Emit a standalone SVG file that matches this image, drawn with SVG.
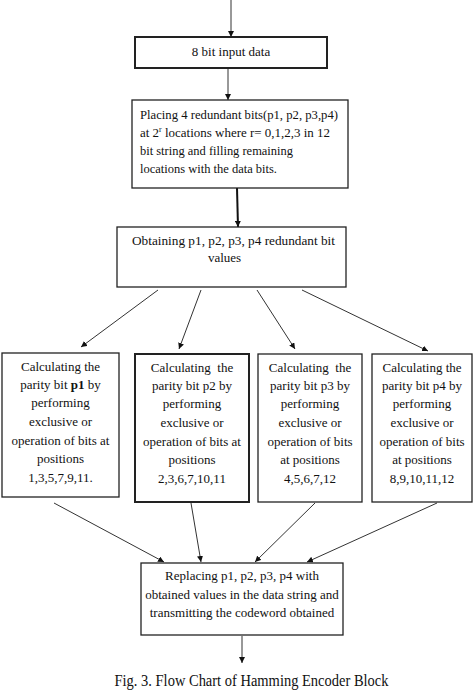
<svg xmlns="http://www.w3.org/2000/svg" width="474" height="690" viewBox="0 0 474 690">
<style>
.box{fill:#fff;stroke:#222;stroke-width:1.3}
.thick{stroke-width:2}
text{font-family:"Liberation Serif","Times New Roman",serif;font-size:13px;fill:#111}
.c{text-anchor:middle}
.ln{stroke:#333;stroke-width:1;fill:none}
.lnt{stroke:#111;stroke-width:2;fill:none}
.cap{font-size:14.5px}
</style>
<defs>
<marker id="ah" viewBox="0 0 10 10" refX="10" refY="5" markerWidth="6" markerHeight="6" markerUnits="userSpaceOnUse" orient="auto">
<path d="M0,0 L10,5 L0,10 z" fill="#111"/>
</marker>
</defs>
<rect width="474" height="690" fill="#fff"/>
<g id="connectors">
<line class="ln" x1="231" y1="0" x2="231" y2="37" marker-end="url(#ah)"/>
<line class="ln" x1="228" y1="68" x2="228" y2="100" marker-end="url(#ah)"/>
<line class="lnt" x1="237" y1="188" x2="238" y2="227" marker-end="url(#ah)"/>
<line class="ln" x1="158" y1="290" x2="81" y2="347" marker-end="url(#ah)"/>
<line class="ln" x1="201" y1="290" x2="179" y2="349" marker-end="url(#ah)"/>
<line class="ln" x1="257" y1="290" x2="295" y2="349" marker-end="url(#ah)"/>
<line class="ln" x1="302" y1="290" x2="428" y2="351" marker-end="url(#ah)"/>
<line class="ln" x1="54" y1="503" x2="164" y2="562" marker-end="url(#ah)"/>
<line class="ln" x1="191" y1="503" x2="201" y2="562" marker-end="url(#ah)"/>
<line class="ln" x1="315" y1="503" x2="255" y2="562" marker-end="url(#ah)"/>
<line class="ln" x1="437" y1="503" x2="307" y2="562" marker-end="url(#ah)"/>
<line class="ln" x1="242" y1="636" x2="242" y2="663" marker-end="url(#ah)"/>
</g>
<g id="input">
<rect class="box thick" x="135" y="37" width="192" height="31"/>
<text class="c" x="231" y="56">8 bit input data</text>
</g>
<g id="placing">
<rect class="box" x="132" y="100" width="216" height="88"/>
<text x="140" y="119" textLength="198" lengthAdjust="spacingAndGlyphs">Placing 4 redundant bits(p1, p2, p3,p4)</text>
<text x="140" y="137" textLength="190" lengthAdjust="spacingAndGlyphs">at 2<tspan font-size="8" dy="-5">r</tspan><tspan dy="5"> locations where  r= 0,1,2,3 in 12</tspan></text>
<text x="140" y="155" textLength="153" lengthAdjust="spacingAndGlyphs">bit string and filling remaining</text>
<text x="140" y="173" textLength="137" lengthAdjust="spacingAndGlyphs">locations with the data bits.</text>
</g>
<g id="obtaining">
<rect class="box" x="117" y="227" width="229" height="60"/>
<text class="c" x="233.5" y="245" textLength="203" lengthAdjust="spacingAndGlyphs">Obtaining p1, p2, p3, p4 redundant bit</text>
<text class="c" x="224.5" y="262">values</text>
</g>
<g id="p1box">
<rect class="box" x="2" y="353" width="117" height="144"/>
<text class="c" x="60.5" y="371">Calculating the</text>
<text class="c" x="60.5" y="389">parity bit <tspan font-weight="bold">p1</tspan> by</text>
<text class="c" x="60.5" y="407">performing</text>
<text class="c" x="60.5" y="426">exclusive or</text>
<text class="c" x="60.5" y="445">operation of bits at</text>
<text class="c" x="60.5" y="463">positions</text>
<text class="c" x="60.5" y="482">1,3,5,7,9,11.</text>
</g>
<g id="p2box">
<rect class="box thick" x="135" y="354" width="114" height="148"/>
<text class="c" x="192" y="372" xml:space="preserve">Calculating  the</text>
<text class="c" x="192" y="390">parity bit p2 by</text>
<text class="c" x="192" y="408">performing</text>
<text class="c" x="192" y="427">exclusive or</text>
<text class="c" x="192" y="446">operation of bits at</text>
<text class="c" x="192" y="464">positions</text>
<text class="c" x="192" y="483">2,3,6,7,10,11</text>
</g>
<g id="p3box">
<rect class="box" x="258" y="354" width="104" height="148"/>
<text class="c" x="310" y="372" xml:space="preserve">Calculating  the</text>
<text class="c" x="310" y="390">parity bit p3 by</text>
<text class="c" x="310" y="408">performing</text>
<text class="c" x="310" y="427">exclusive or</text>
<text class="c" x="310" y="446">operation of bits</text>
<text class="c" x="310" y="464">at positions</text>
<text class="c" x="310" y="483">4,5,6,7,12</text>
</g>
<g id="p4box">
<rect class="box" x="372" y="354" width="100" height="148"/>
<text class="c" x="422" y="372">Calculating the</text>
<text class="c" x="422" y="390">parity bit p4 by</text>
<text class="c" x="422" y="408">performing</text>
<text class="c" x="422" y="427">exclusive or</text>
<text class="c" x="422" y="446">operation of bits</text>
<text class="c" x="422" y="464">at positions</text>
<text class="c" x="422" y="483">8,9,10,11,12</text>
</g>
<g id="replacing">
<rect class="box" x="141" y="563" width="202" height="72"/>
<text class="c" x="242" y="580">Replacing p1, p2, p3, p4 with</text>
<text class="c" x="242" y="599">obtained values in the data string and</text>
<text class="c" x="242" y="617">transmitting the codeword obtained</text>
</g>
<text class="cap" transform="translate(251.5,686) scale(1,1.2)" x="0" y="0" text-anchor="middle" xml:space="preserve">Fig. 3. Flow Chart of Hamming Encoder Block</text>
</svg>
